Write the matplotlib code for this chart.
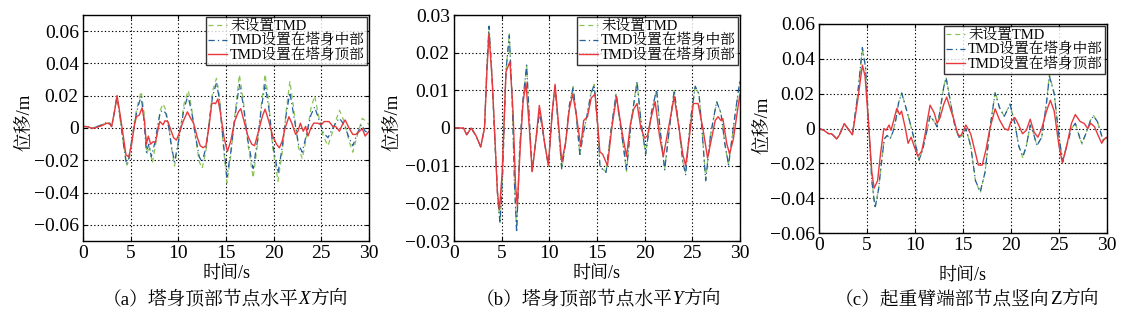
import matplotlib
matplotlib.use("Agg")
import matplotlib.pyplot as plt
from matplotlib.offsetbox import TextArea, HPacker, AnnotationBbox

FAM = ['Liberation Serif', 'Noto Serif CJK SC', 'Noto Sans CJK SC']
plt.rcParams['font.family'] = FAM
plt.rcParams['axes.unicode_minus'] = True

# ---------------- data: panel (a) ----------------
ta_no = [0, 0.5, 1.0, 1.5, 2.0, 2.5, 2.8, 3.0, 3.3, 3.57, 3.9, 4.2, 4.6, 4.85, 5.1, 5.5, 5.8, 6.1, 6.4, 6.7, 6.95, 7.27, 7.6, 7.9, 8.1, 8.4, 8.7, 9.0, 9.3, 9.6, 9.9, 10.2, 10.6, 11.05, 11.4, 11.8, 12.2, 12.5, 12.9, 13.2, 13.6, 14.0, 14.3, 14.7, 15.1, 15.5, 15.9, 16.4, 16.8, 17.3, 17.85, 18.3, 18.7, 19.1, 19.5, 19.9, 20.45, 20.9, 21.3, 21.7, 22.1, 22.6, 23.0, 23.4, 23.9, 24.3, 24.7, 25.2, 25.7, 26.2, 26.6, 26.9, 27.4, 27.9, 28.3, 28.8, 29.3, 29.7, 30.0]
xa_no = [0.001, 0.0008, 0.0, 0.001, 0.002, 0.0035, 0.003, 0.001, 0.010, 0.020, 0.006, -0.008, -0.023, -0.020, -0.008, 0.008, 0.016, 0.0226, 0.010, -0.016, -0.011, -0.0217, -0.011, 0.002, 0.011, 0.015, 0.011, 0.001, -0.013, -0.0236, -0.013, -0.001, 0.015, 0.0232, 0.012, -0.006, -0.021, -0.025, -0.014, 0.002, 0.023, 0.0308, 0.020, -0.010, -0.034, -0.017, 0.006, 0.033, 0.018, -0.010, -0.031, -0.010, 0.014, 0.0333, 0.015, -0.012, -0.033, -0.015, 0.010, 0.029, 0.012, -0.012, -0.019, -0.007, 0.012, 0.020, 0.008, -0.005, -0.011, -0.002, 0.006, 0.011, 0.004, -0.008, -0.015, -0.004, 0.006, 0.004, 0.002]

ta_mid = [0, 0.5, 1.0, 1.5, 2.0, 2.5, 2.8, 3.0, 3.3, 3.57, 3.9, 4.2, 4.55, 4.8, 5.1, 5.5, 5.8, 6.1, 6.35, 6.65, 6.9, 7.17, 7.5, 7.8, 8.1, 8.4, 8.7, 9.0, 9.3, 9.6, 9.9, 10.2, 10.6, 11.0, 11.4, 11.8, 12.2, 12.5, 12.9, 13.2, 13.6, 14.0, 14.3, 14.7, 15.1, 15.5, 15.9, 16.4, 16.8, 17.3, 17.85, 18.3, 18.7, 19.1, 19.5, 19.9, 20.45, 20.9, 21.3, 21.7, 22.1, 22.6, 23.0, 23.4, 23.9, 24.3, 24.7, 25.2, 25.7, 26.2, 26.6, 26.9, 27.4, 27.9, 28.3, 28.8, 29.2, 29.6, 30.0]
xa_mid = [0.001, 0.0008, 0.0, 0.001, 0.002, 0.0035, 0.003, 0.001, 0.010, 0.020, 0.006, -0.008, -0.0225, -0.019, -0.008, 0.006, 0.014, 0.0195, 0.008, -0.015, -0.010, -0.0178, -0.010, 0.000, 0.010, 0.011, 0.009, 0.000, -0.012, -0.021, -0.012, -0.002, 0.012, 0.020, 0.010, -0.005, -0.018, -0.021, -0.012, 0.002, 0.020, 0.028, 0.018, -0.008, -0.030, -0.015, 0.005, 0.027, 0.015, -0.008, -0.025, -0.008, 0.012, 0.027, 0.012, -0.010, -0.028, -0.012, 0.008, 0.022, 0.008, -0.010, -0.015, -0.005, 0.008, 0.013, 0.006, -0.003, -0.006, 0.000, 0.004, 0.006, 0.002, -0.006, -0.011, -0.003, 0.002, -0.002, -0.003]

ta_top = [0, 0.5, 1.0, 1.5, 2.0, 2.5, 2.8, 3.0, 3.3, 3.57, 3.9, 4.2, 4.5, 4.8, 5.1, 5.4, 5.6, 5.9, 6.2, 6.45, 6.65, 6.85, 7.1, 7.35, 7.6, 7.8, 8.05, 8.4, 8.6, 8.9, 9.2, 9.5, 9.8, 10.1, 10.5, 10.95, 11.3, 11.6, 12.0, 12.3, 12.6, 12.9, 13.2, 13.5, 13.75, 13.9, 14.15, 14.4, 14.8, 15.15, 15.5, 15.9, 16.3, 16.55, 16.9, 17.3, 17.7, 18.0, 18.5, 18.8, 19.1, 19.5, 19.9, 20.3, 20.6, 20.9, 21.2, 21.6, 21.9, 22.3, 22.55, 22.8, 23.1, 23.35, 23.6, 23.9, 24.2, 24.6, 25.0, 25.3, 25.8, 26.2, 26.5, 26.9, 27.2, 27.5, 27.9, 28.3, 28.6, 29.0, 29.3, 29.6, 30.0]
xa_top = [0.001, 0.0008, -0.0003, 0.0005, 0.0015, 0.003, 0.0025, 0.0008, 0.010, 0.020, 0.008, -0.004, -0.0165, -0.018, -0.010, 0.002, 0.007, 0.008, 0.0125, 0.004, -0.010, -0.005, -0.010, -0.0085, -0.009, -0.003, 0.004, 0.002, 0.0045, 0.004, -0.001, -0.006, -0.0075, -0.003, 0.004, 0.010, 0.006, 0.003, -0.006, -0.011, -0.0122, -0.011, 0.000, 0.015, 0.0155, 0.015, 0.018, 0.010, -0.006, -0.0145, -0.008, 0.004, 0.010, 0.012, 0.004, -0.005, -0.010, -0.011, 0.000, 0.007, 0.0117, 0.004, -0.005, -0.010, -0.0123, -0.008, 0.000, 0.007, 0.003, -0.004, -0.002, 0.003, -0.002, 0.001, -0.005, 0.000, 0.003, 0.003, 0.002, 0.004, 0.004, 0.001, 0.001, -0.002, 0.002, 0.005, 0.000, -0.004, -0.004, -0.002, -0.0005, -0.005, -0.002]

# ---------------- data: panel (b) ----------------
tb_no = [0, 0.5, 1.0, 1.33, 1.8, 2.3, 2.8, 3.2, 3.45, 3.67, 4.0, 4.3, 4.6, 4.83, 5.1, 5.45, 5.8, 6.1, 6.35, 6.57, 6.9, 7.25, 7.62, 7.95, 8.2, 8.6, 8.95, 9.2, 9.5, 9.9, 10.3, 10.6, 11.0, 11.3, 11.7, 12.1, 12.5, 12.8, 13.2, 13.6, 14.0, 14.35, 14.7, 15.1, 15.3, 15.6, 15.95, 16.5, 17.0, 17.55, 18.1, 18.6, 19.2, 19.6, 20.1, 20.7, 21.25, 21.6, 22.1, 22.6, 23.1, 23.6, 24.0, 24.3, 24.8, 25.3, 25.7, 26.0, 26.4, 26.9, 27.55, 28.0, 28.4, 28.8, 29.4, 30.0]
yb_no = [0, 0, 0, -0.0018, 0, -0.002, -0.005, 0.0, 0.016, 0.027, 0.013, -0.004, -0.019, -0.025, -0.012, 0.015, 0.025, 0.008, -0.015, -0.027, -0.005, 0.008, 0.0165, 0.000, -0.0115, -0.003, 0.004, 0.001, -0.004, -0.010, 0.004, 0.011, -0.001, -0.011, -0.004, 0.006, 0.011, 0.004, -0.007, -0.001, 0.004, 0.009, 0.0116, 0.000, -0.010, -0.011, -0.0115, 0.000, 0.009, -0.001, -0.0115, 0.002, 0.0125, 0.002, -0.007, 0.004, 0.0102, 0.000, -0.011, 0.000, 0.010, 0.000, -0.009, -0.012, 0.002, 0.011, 0.009, 0.000, -0.0135, -0.002, 0.007, 0.004, -0.004, -0.010, 0.002, 0.0125]

tb_mid = [0, 0.5, 1.0, 1.33, 1.8, 2.3, 2.8, 3.2, 3.45, 3.67, 4.0, 4.3, 4.6, 4.83, 5.1, 5.45, 5.8, 6.1, 6.35, 6.57, 6.9, 7.25, 7.62, 7.95, 8.2, 8.6, 8.95, 9.2, 9.5, 9.9, 10.3, 10.6, 11.0, 11.3, 11.7, 12.1, 12.5, 12.8, 13.2, 13.6, 14.0, 14.35, 14.7, 15.1, 15.3, 15.6, 15.95, 16.5, 17.0, 17.55, 18.1, 18.6, 19.2, 19.6, 20.1, 20.7, 21.25, 21.6, 22.1, 22.6, 23.1, 23.6, 24.0, 24.3, 24.8, 25.3, 25.7, 26.0, 26.4, 26.9, 27.55, 28.0, 28.4, 28.8, 29.4, 30.0]
yb_mid = [0, 0, 0, -0.0018, 0, -0.002, -0.005, 0.0, 0.016, 0.027, 0.013, -0.004, -0.019, -0.0253, -0.012, 0.015, 0.0246, 0.008, -0.015, -0.0277, -0.005, 0.008, 0.0167, 0.000, -0.0115, -0.003, 0.004, 0.001, -0.004, -0.010, 0.004, 0.011, -0.001, -0.011, -0.004, 0.006, 0.0108, 0.004, -0.007, -0.001, 0.004, 0.009, 0.0114, 0.000, -0.010, -0.011, -0.0118, 0.000, 0.009, -0.001, -0.011, 0.002, 0.0123, 0.002, -0.0069, 0.004, 0.0102, 0.000, -0.0111, 0.000, 0.010, 0.000, -0.009, -0.0124, 0.002, 0.0111, 0.009, 0.000, -0.014, -0.002, 0.007, 0.004, -0.004, -0.0098, 0.002, 0.013]

tb_top = [0, 0.5, 1.0, 1.33, 1.8, 2.3, 2.8, 3.2, 3.45, 3.67, 4.0, 4.3, 4.55, 4.76, 5.05, 5.45, 5.87, 6.2, 6.45, 6.64, 6.95, 7.25, 7.55, 7.9, 8.2, 8.6, 8.95, 9.2, 9.5, 9.9, 10.3, 10.6, 11.0, 11.3, 11.7, 12.1, 12.45, 12.8, 13.3, 13.6, 14.0, 14.4, 14.8, 15.1, 15.3, 15.6, 16.1, 16.55, 17.05, 17.55, 18.1, 18.5, 18.85, 19.2, 19.6, 20.0, 20.3, 20.7, 21.1, 21.55, 21.95, 22.5, 23.1, 23.6, 24.0, 24.3, 24.8, 25.1, 25.6, 26.1, 26.6, 27.0, 27.4, 27.7, 28.0, 28.2, 28.6, 28.9, 29.3, 29.7, 30.0]
yb_top = [0, 0, 0, -0.0018, 0, -0.002, -0.005, 0.0, 0.015, 0.025, 0.013, -0.003, -0.017, -0.0217, -0.012, 0.0149, 0.0176, 0.004, -0.015, -0.0208, -0.005, 0.007, 0.012, 0.000, -0.0116, -0.003, 0.006, 0.002, -0.004, -0.0098, 0.004, 0.0116, 0.000, -0.009, -0.004, 0.005, 0.009, 0.004, -0.005, 0.002, 0.003, 0.008, 0.009, 0.000, -0.0063, -0.007, -0.010, 0.000, 0.0083, 0.000, -0.0076, 0.001, 0.005, 0.0065, 0.000, -0.0027, -0.002, 0.003, 0.007, -0.002, -0.0076, 0.000, 0.0083, 0.000, -0.007, -0.010, 0.000, 0.0065, 0.0065, 0.000, -0.008, -0.003, 0.002, 0.003, 0.002, 0.0025, -0.004, -0.0069, -0.003, 0.004, 0.009]

# ---------------- data: panel (c) ----------------
tc_no = [0, 0.5, 1.0, 1.3, 1.5, 1.84, 2.1, 2.64, 3.0, 3.48, 4.0, 4.52, 4.85, 5.2, 5.5, 5.84, 6.2, 6.5, 6.8, 7.1, 7.4, 7.7, 8.0, 8.3, 8.62, 9.0, 9.5, 10.0, 10.43, 10.8, 11.3, 11.57, 12.0, 12.3, 12.6, 13.0, 13.24, 13.7, 14.2, 14.6, 15.0, 15.3, 15.8, 16.3, 16.8, 17.3, 17.8, 18.35, 18.8, 19.3, 19.9, 20.4, 20.8, 21.24, 21.6, 22.0, 22.3, 22.7, 23.2, 23.7, 24.0, 24.5, 25.0, 25.4, 25.8, 26.3, 26.7, 27.2, 27.4, 27.8, 28.3, 28.6, 29.0, 29.6, 30.0]
zc_no = [0.000, -0.001, -0.003, -0.003, -0.004, -0.006, -0.004, 0.0028, 0.000, -0.0036, 0.018, 0.046, 0.035, 0.000, -0.030, -0.045, -0.035, -0.020, -0.006, -0.004, -0.006, -0.002, 0.005, 0.015, 0.0205, 0.013, 0.003, -0.008, -0.0185, -0.012, 0.000, 0.0072, 0.004, 0.001, 0.010, 0.024, 0.0295, 0.015, 0.000, -0.005, -0.004, 0.000, -0.010, -0.030, -0.037, -0.025, 0.000, 0.021, 0.012, 0.007, 0.0142, 0.003, -0.010, -0.017, -0.010, 0.002, -0.002, -0.0098, -0.005, 0.015, 0.031, 0.020, -0.005, -0.019, -0.010, 0.000, 0.003, -0.006, -0.009, -0.003, 0.005, 0.0075, 0.004, -0.007, -0.005]

tc_mid = [0, 0.5, 1.0, 1.3, 1.5, 1.84, 2.1, 2.64, 3.0, 3.48, 4.0, 4.52, 4.85, 5.2, 5.5, 5.84, 6.2, 6.5, 6.8, 7.1, 7.4, 7.7, 8.0, 8.3, 8.62, 9.0, 9.5, 10.0, 10.43, 10.8, 11.3, 11.57, 12.0, 12.3, 12.6, 13.0, 13.24, 13.7, 14.2, 14.6, 15.0, 15.3, 15.8, 16.3, 16.8, 17.3, 17.8, 18.35, 18.8, 19.3, 19.9, 20.4, 20.8, 21.24, 21.6, 22.0, 22.3, 22.7, 23.2, 23.7, 24.0, 24.5, 25.0, 25.4, 25.8, 26.3, 26.7, 27.2, 27.4, 27.8, 28.3, 28.6, 29.0, 29.6, 30.0]
zc_mid = [0.000, -0.001, -0.003, -0.003, -0.004, -0.006, -0.004, 0.0028, 0.000, -0.0036, 0.018, 0.0465, 0.035, 0.000, -0.030, -0.0457, -0.035, -0.020, -0.006, -0.004, -0.006, -0.002, 0.005, 0.015, 0.0203, 0.013, 0.003, -0.008, -0.018, -0.012, 0.000, 0.0072, 0.004, 0.001, 0.010, 0.024, 0.029, 0.015, 0.000, -0.005, -0.004, 0.000, -0.010, -0.030, -0.0362, -0.025, 0.000, 0.0204, 0.012, 0.007, 0.0138, 0.003, -0.010, -0.016, -0.010, 0.002, -0.002, -0.0098, -0.005, 0.015, 0.030, 0.020, -0.005, -0.019, -0.010, 0.000, 0.003, -0.006, -0.008, -0.003, 0.005, 0.007, 0.004, -0.007, -0.005]

tc_top = [0, 0.5, 1.0, 1.3, 1.5, 1.84, 2.1, 2.64, 3.0, 3.48, 4.0, 4.52, 4.8, 5.2, 5.5, 5.74, 6.1, 6.4, 6.75, 7.0, 7.3, 7.5, 7.8, 8.1, 8.4, 8.6, 9.0, 9.28, 9.6, 9.9, 10.3, 10.7, 11.0, 11.3, 11.57, 12.0, 12.3, 12.6, 13.0, 13.3, 13.7, 14.0, 14.5, 14.8, 15.3, 15.8, 16.2, 16.6, 17.0, 17.4, 17.8, 18.35, 18.8, 19.3, 19.7, 20.0, 20.4, 20.8, 21.2, 21.6, 22.0, 22.4, 22.8, 23.2, 23.7, 24.1, 24.5, 25.0, 25.35, 25.8, 26.3, 26.7, 27.2, 27.6, 28.0, 28.3, 28.7, 29.0, 29.45, 29.7, 30.0]
zc_top = [0.000, -0.001, -0.003, -0.003, -0.004, -0.006, -0.004, 0.0028, 0.000, -0.0036, 0.015, 0.0364, 0.030, 0.000, -0.025, -0.0343, -0.030, -0.015, 0.000, -0.001, 0.002, -0.001, 0.005, 0.0115, 0.008, 0.010, 0.000, -0.0085, -0.005, -0.010, -0.016, -0.013, -0.005, 0.005, 0.0134, 0.009, 0.003, 0.006, 0.014, 0.018, 0.011, 0.006, -0.004, -0.004, 0.002, -0.003, -0.012, -0.021, -0.021, -0.012, 0.000, 0.0113, 0.005, 0.000, -0.001, 0.004, 0.0063, 0.002, -0.003, -0.001, 0.0053, -0.002, -0.005, 0.000, 0.010, 0.0162, 0.010, -0.010, -0.0197, -0.010, 0.003, 0.008, 0.004, 0.003, 0.000, 0.003, 0.001, -0.003, -0.0085, -0.006, -0.005]

labels = ['未设置TMD', 'TMD设置在塔身中部', 'TMD设置在塔身顶部']
xticks = [0, 5, 10, 15, 20, 25, 30]
yticks_a = [-0.06, -0.04, -0.02, 0, 0.02, 0.04, 0.06]
yticks_b = [-0.03, -0.02, -0.01, 0, 0.01, 0.02, 0.03]
yticks_c = [-0.06, -0.04, -0.02, 0, 0.02, 0.04, 0.06]
captions = [('（a）塔身顶部节点水平', 'X', '方向'),
            ('（b）塔身顶部节点水平', 'Y', '方向'),
            ('（c）起重臂端部节点竖向', 'Z', '方向')]

# ---------------- styling ----------------
C_NO = '#8cc45a'
C_MID = '#24609c'
C_TOP = '#e8383d'

W, H = 1122, 321
fig = plt.figure(figsize=(W / 100, H / 100), dpi=100)

def px_axes(l, t, r, b):
    return fig.add_axes([l / W, (H - b) / H, (r - l) / W, (b - t) / H])

panels = [
    dict(box=(83, 15, 369, 241), ylim=(-0.07, 0.07), yt=yticks_a,
         data=[(ta_no, xa_no), (ta_mid, xa_mid), (ta_top, xa_top)],
         ylab=(25, 122), xlab=(226, 273), cap=(225, 299)),
    dict(box=(454, 15, 740, 241), ylim=(-0.03, 0.03), yt=yticks_b,
         data=[(tb_no, yb_no), (tb_mid, yb_mid), (tb_top, yb_top)],
         ylab=(393, 122), xlab=(597, 273), cap=(598, 299)),
    dict(box=(819, 24, 1107, 233), ylim=(-0.06, 0.06), yt=yticks_c,
         data=[(tc_no, zc_no), (tc_mid, zc_mid), (tc_top, zc_top)],
         ylab=(763, 125), xlab=(963, 275), cap=(967, 299)),
]

def fmt(v):
    if abs(v) < 1e-12:
        return '0'
    s = '%.2f' % abs(v)
    return ('\u2212' + s) if v < 0 else s

for i, p in enumerate(panels):
    ax = px_axes(*p['box'])
    (t0, v0), (t1, v1), (t2, v2) = p['data']
    ax.plot(t0, v0, color=C_NO, ls=(0, (4, 3)), lw=0.9, label=labels[0])
    ax.plot(t1, v1, color=C_MID, ls=(0, (5, 2.5, 1, 2.5)), lw=0.9, label=labels[1])
    ax.plot(t2, v2, color=C_TOP, ls='-', lw=1.0, label=labels[2])
    ax.set_xlim(0, 30)
    ax.set_ylim(*p['ylim'])
    ax.set_xticks(xticks)
    ax.set_xticklabels([str(x) for x in xticks], fontsize=14, family=FAM)
    ax.set_yticks(p['yt'])
    ax.set_yticklabels([fmt(v) for v in p['yt']], fontsize=14, family=FAM)
    ax.tick_params(direction='in', length=3, width=0.8, pad=3, top=True, right=True)
    ax.grid(True, color='black', ls=(0, (1.2, 2)), lw=0.8)
    for s in ax.spines.values():
        s.set_linewidth(1.0)
        s.set_color('black')
    leg = ax.legend(loc='upper right', frameon=True, fancybox=False,
                    borderaxespad=0.12, borderpad=0.15, labelspacing=0.05,
                    handlelength=1.3, handletextpad=0.2,
                    prop={'family': FAM, 'size': 10.5})
    leg.get_frame().set_edgecolor('black')
    leg.get_frame().set_linewidth(1.0)
    fig.text(p['ylab'][0] / W, 1 - p['ylab'][1] / H, '位移/m', rotation=90,
             ha='center', va='center', fontsize=13.5, family=FAM)
    fig.text(p['xlab'][0] / W, 1 - p['xlab'][1] / H, '时间/s',
             ha='center', va='center', fontsize=13, family=FAM)
    a, b, c = captions[i]
    parts = [TextArea(a, textprops=dict(fontsize=13.5, family=FAM)),
             TextArea(b, textprops=dict(fontsize=13.5, family=FAM,
                                        style='italic' if b != 'Z' else 'normal')),
             TextArea(c, textprops=dict(fontsize=13.5, family=FAM))]
    pack = HPacker(children=parts, pad=0, sep=0, align='baseline')
    ab = AnnotationBbox(pack, (p['cap'][0] / W, 1 - p['cap'][1] / H),
                        xycoords='figure fraction', frameon=False,
                        box_alignment=(0.5, 0.5), pad=0)
    fig.add_artist(ab)

fig.savefig('out.png', dpi=100)
